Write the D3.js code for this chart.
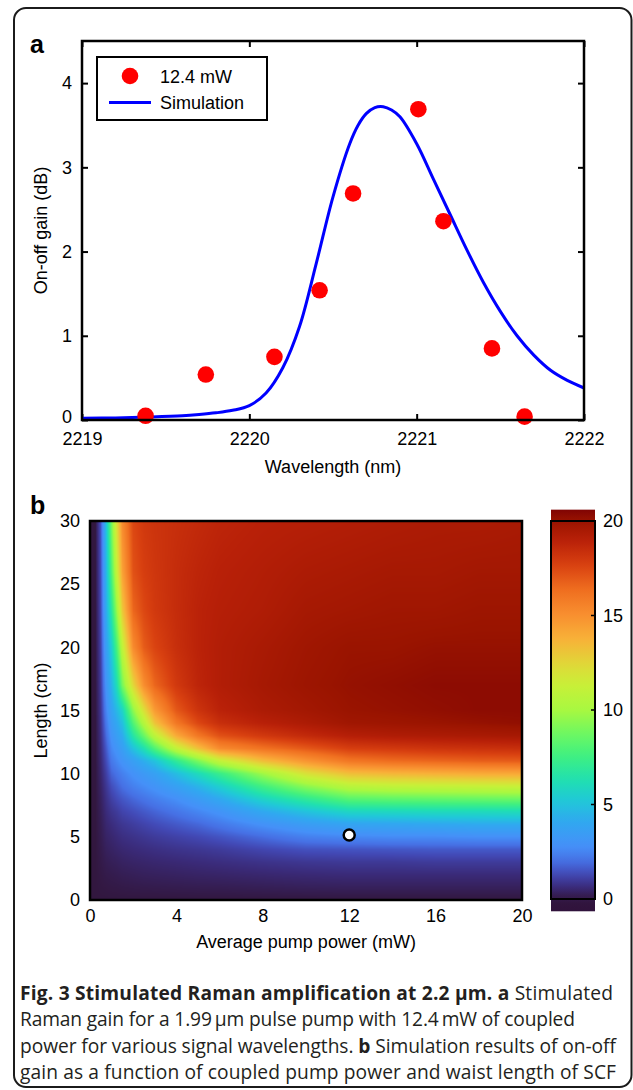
<!DOCTYPE html>
<html>
<head>
<meta charset="utf-8">
<script src="https://cdn.jsdelivr.net/npm/d3@7"></script>
<style>
  html, body { margin: 0; padding: 0; background: #fff; }
  svg { display: block; }
</style>
</head>
<body>
<svg id="fig" width="633" height="1090"></svg>
<script>
// ---------- Panel a: measured and simulated on-off gain ----------
const measWavelength = [2219.38, 2219.74, 2220.15, 2220.42, 2220.62, 2221.01, 2221.16, 2221.45, 2221.645];
const measGain       = [0.05,    0.54,    0.75,    1.54,    2.69,    3.69,    2.36,    0.85,    0.04];

const simWavelength = [2219.0, 2219.2, 2219.4, 2219.6, 2219.7, 2219.8, 2219.9, 2220.0, 2220.1, 2220.2,
                       2220.3, 2220.4, 2220.5, 2220.6, 2220.65, 2220.7, 2220.75, 2220.8, 2220.85, 2220.9,
                       2221.0, 2221.1, 2221.2, 2221.3, 2221.4, 2221.5, 2221.6, 2221.7, 2221.8, 2221.9, 2222.0];
const simGain       = [0.02, 0.025, 0.035, 0.05, 0.065, 0.085, 0.115, 0.17, 0.32, 0.62,
                       1.11, 1.86, 2.65, 3.28, 3.50, 3.64, 3.71, 3.72, 3.68, 3.60,
                       3.28, 2.86, 2.44, 2.02, 1.63, 1.29, 1.00, 0.77, 0.59, 0.47, 0.38];

const legendLabels = ["12.4 mW", "Simulation"];
const aXTicks = [2219, 2220, 2221, 2222];
const aYTicks = [0, 1, 2, 3, 4];

// ---------- Panel b: simulated gain map (dB) ----------
const pumpPower   = [0, 0.25, 0.5, 0.75, 1, 1.25, 1.5, 2, 2.5, 3, 4, 5, 6, 8, 10, 12, 14, 16, 18, 20];   // mW
const waistLength = [0, 1, 2, 3, 4, 5, 6, 7, 8, 9, 10, 11, 12, 13, 14, 15, 17, 20, 23, 26, 30];          // cm
// one row per waist length, one column per pump power
const gainGrid = [
  [0, 0, 0,    0,    0,    0,    0,    0,    0,    0,    0,    0,    0,    0,    0,    0,    0,    0,    0,    0   ],
  [0, 0, 0.03, 0.05, 0.07, 0.08, 0.1,  0.12, 0.14, 0.15, 0.17, 0.19, 0.2,  0.24, 0.28, 0.3,  0.3,  0.3,  0.3,  0.3 ],
  [0, 0, 0.06, 0.12, 0.15, 0.18, 0.22, 0.26, 0.3,  0.32, 0.36, 0.4,  0.43, 0.5,  0.56, 0.6,  0.6,  0.6,  0.6,  0.6 ],
  [0, 0, 0.1,  0.2,  0.26, 0.3,  0.36, 0.42, 0.46, 0.5,  0.56, 0.62, 0.68, 0.8,  0.9,  0.95, 0.95, 1.0,  1.0,  1.0 ],
  [0, 0, 0.14, 0.3,  0.38, 0.45, 0.52, 0.6,  0.66, 0.72, 0.82, 0.9,  1.0,  1.25, 1.45, 1.5,  1.55, 1.6,  1.6,  1.6 ],
  [0, 0, 0.18, 0.4,  0.5,  0.6,  0.7,  0.8,  0.9,  1.0,  1.15, 1.3,  1.5,  1.95, 2.4,  2.6,  2.7,  2.7,  2.8,  2.8 ],
  [0, 0, 0.22, 0.5,  0.65, 0.78, 0.9,  1.05, 1.2,  1.35, 1.6,  1.85, 2.2,  2.9,  3.5,  3.9,  4.0,  4.1,  4.2,  4.2 ],
  [0, 0, 0.27, 0.62, 0.85, 1.0,  1.2,  1.4,  1.6,  1.8,  2.15, 2.55, 3.0,  4.1,  5.0,  5.8,  5.9,  6.0,  6.0,  6.1 ],
  [0, 0, 0.33, 0.75, 1.1,  1.35, 1.55, 1.85, 2.1,  2.35, 2.8,  3.4,  4.1,  5.7,  7.0,  8.2,  8.4,  8.5,  8.6,  8.7 ],
  [0, 0, 0.4,  0.9,  1.4,  1.7,  2.0,  2.4,  2.7,  3.0,  3.7,  4.5,  5.5,  7.6,  9.4,  10.7, 11.0, 11.1, 11.2, 11.3],
  [0, 0, 0.48, 1.1,  1.8,  2.1,  2.4,  2.9,  3.3,  3.7,  4.8,  6.0,  7.3,  9.8,  12.0, 13.3, 13.6, 13.8, 14.0, 14.1],
  [0, 0, 0.56, 1.35, 2.2,  2.6,  3.0,  3.6,  4.3,  5.0,  7.0,  9.0,  11.0, 13.3, 14.8, 16.0, 16.4, 16.6, 16.8, 16.9],
  [0, 0, 0.64, 1.6,  2.6,  3.1,  3.6,  5.0,  6.3,  8.0,  11.0, 13.2, 15.2, 16.2, 17.0, 17.8, 18.0, 18.2, 18.3, 18.4],
  [0, 0, 0.72, 1.9,  3.0,  3.6,  4.2,  6.6,  8.6,  10.8, 14.0, 16.0, 17.2, 18.0, 18.6, 19.1, 19.3, 19.4, 19.5, 19.6],
  [0, 0, 0.8,  2.2,  3.4,  4.1,  4.9,  8.0,  10.5, 13.1, 16.0, 17.5, 18.4, 19.0, 19.4, 19.8, 19.9, 20.0, 20.1, 20.2],
  [0, 0, 0.88, 2.5,  3.8,  4.7,  5.7,  9.4,  12.1, 14.6, 17.0, 18.2, 18.9, 19.4, 19.7, 20.0, 20.1, 20.2, 20.3, 20.3],
  [0, 0, 1.0,  3.0,  4.5,  6.2,  8.9,  12.4, 15.1, 16.6, 18.0, 18.8, 19.2, 19.6, 19.9, 20.1, 20.2, 20.3, 20.3, 20.3],
  [0, 0, 1.15, 3.6,  5.4,  7.9,  10.9, 15.2, 16.9, 17.6, 18.4, 18.9, 19.2, 19.5, 19.8, 20.0, 20.0, 20.1, 20.1, 20.1],
  [0, 0, 1.3,  4.2,  6.8,  9.8,  13.0, 16.6, 17.5, 18.0, 18.5, 18.9, 19.1, 19.3, 19.6, 19.7, 19.8, 19.8, 19.9, 19.9],
  [0, 0, 1.4,  4.6,  8.0,  11.3, 14.3, 17.2, 17.8, 18.1, 18.5, 18.8, 19.0, 19.2, 19.4, 19.5, 19.6, 19.6, 19.7, 19.7],
  [0, 0, 1.5,  5.0,  9.0,  12.3, 15.2, 17.5, 18.0, 18.2, 18.4, 18.6, 18.8, 19.0, 19.1, 19.2, 19.3, 19.4, 19.4, 19.5]
];
const markerPoint = [12, 5.14];   // experimental operating point (mW, cm)
const bXTicks = [0, 4, 8, 12, 16, 20];
const bYTicks = [0, 5, 10, 15, 20, 25, 30];
const cbTicks = [0, 5, 10, 15, 20];

// colour map (gain in dB -> colour)
const cmapValues = [-0.65, 0, 0.6, 1.3, 2.0, 2.8, 4.1, 5.2, 6.3, 7.6, 8.8, 10, 11.3, 12.4, 13.8, 15, 16.3, 17.7, 19, 20, 20.6];
const cmapColors = ["#30123b", "#32173f", "#3a2a78", "#4248b4", "#4670e4", "#4590f8", "#30a8f0", "#20c8d8",
                    "#20e0b0", "#40f080", "#70f860", "#a8f840", "#c8f038", "#e0d838", "#f8b038", "#f89030",
                    "#f07020", "#d84010", "#b82008", "#9a1400", "#800404"];

// ---------- caption ----------
const captionLines = [
  [["Fig. 3 Stimulated Raman amplification at 2.2 µm. a", true], [" Stimulated", false]],
  [["Raman gain for a 1.99\u2009µm pulse pump with 12.4\u2009mW of coupled", false]],
  [["power for various signal wavelengths. ", false], ["b", true], [" Simulation results of on-off", false]],
  [["gain as a function of coupled pump power and waist length of SCF", false]]
];
const captionWidths = [593, 555, 596, 596];

// =====================================================================
const svg = d3.select("#fig");
const FONT = "'Liberation Sans', Arial, Helvetica, sans-serif";

// outer rounded frame
svg.append("rect")
  .attr("x", 14).attr("y", 8).attr("width", 617.5).attr("height", 1079)
  .attr("rx", 12).attr("fill", "none").attr("stroke", "#1b1b1b").attr("stroke-width", 2);

// panel letters
svg.append("text").attr("x", 30).attr("y", 53).text("a")
  .attr("font-family", FONT).attr("font-weight", "bold").attr("font-size", 25);
svg.append("text").attr("x", 30).attr("y", 514).text("b")
  .attr("font-family", FONT).attr("font-weight", "bold").attr("font-size", 25);

// ------------------------- Panel a ----------------------------------
const xA = d3.scaleLinear().domain([2219, 2222]).range([82, 584]);
const yA = d3.scaleLinear().domain([0, 4.5]).range([420, 41]);
const gA = svg.append("g");

function styleAxis(g) {
  g.select(".domain").remove();
  g.selectAll(".tick line").attr("stroke", "#000").attr("stroke-width", 2);
  g.selectAll(".tick text").attr("font-family", FONT).attr("font-size", 18).attr("fill", "#000");
}

gA.append("g").attr("transform", `translate(0,${yA(0)})`)
  .call(d3.axisBottom(xA).tickValues(aXTicks).tickFormat(d3.format("d")).tickSize(-6).tickPadding(12))
  .call(styleAxis);
gA.append("g").attr("transform", `translate(0,${yA(4.5)})`)
  .call(d3.axisTop(xA).tickValues(aXTicks).tickFormat("").tickSize(-6))
  .call(styleAxis);
const yAxisA = gA.append("g").attr("transform", `translate(${xA(2219)},0)`)
  .call(d3.axisLeft(yA).tickValues(aYTicks).tickFormat(d3.format("d")).tickSize(-6).tickPadding(10))
  .call(styleAxis);
// lift the zero label a little so it clears the wavelength labels
yAxisA.selectAll(".tick text").filter(d => d === 0).attr("dy", "0.12em");
gA.append("g").attr("transform", `translate(${xA(2222)},0)`)
  .call(d3.axisRight(yA).tickValues(aYTicks).tickFormat("").tickSize(-6))
  .call(styleAxis);

// simulation curve
const simPts = simWavelength.map((w, i) => [w, simGain[i]]);
gA.append("path")
  .datum(simPts)
  .attr("d", d3.line().x(d => xA(d[0])).y(d => yA(d[1])).curve(d3.curveCatmullRom.alpha(0.5)))
  .attr("fill", "none").attr("stroke", "#0000ff").attr("stroke-width", 3);

// measured points
gA.selectAll("circle.meas")
  .data(measWavelength.map((w, i) => [w, measGain[i]]))
  .join("circle").attr("class", "meas")
  .attr("cx", d => xA(d[0])).attr("cy", d => yA(d[1])).attr("r", 8.3)
  .attr("fill", "#ff0000");

// plot frame
gA.append("rect")
  .attr("x", xA(2219)).attr("y", yA(4.5))
  .attr("width", xA(2222) - xA(2219)).attr("height", yA(0) - yA(4.5))
  .attr("fill", "none").attr("stroke", "#000").attr("stroke-width", 2.5);

// legend
const lg = gA.append("g");
lg.append("rect").attr("x", 97).attr("y", 57).attr("width", 170).attr("height", 63)
  .attr("fill", "#fff").attr("stroke", "#000").attr("stroke-width", 2);
lg.append("circle").attr("cx", 130).attr("cy", 76).attr("r", 8.3).attr("fill", "#ff0000");
lg.append("line").attr("x1", 109).attr("x2", 151).attr("y1", 102.5).attr("y2", 102.5)
  .attr("stroke", "#0000ff").attr("stroke-width", 3);
lg.selectAll("text").data(legendLabels).join("text")
  .attr("x", 160).attr("y", (d, i) => 82.5 + i * 26)
  .attr("font-family", FONT).attr("font-size", 18).text(d => d);

// axis titles
gA.append("text").attr("x", (xA(2219) + xA(2222)) / 2).attr("y", 473)
  .attr("text-anchor", "middle").attr("font-family", FONT).attr("font-size", 18)
  .text("Wavelength (nm)");
gA.append("text").attr("transform", `translate(47,${(yA(0) + yA(4.5)) / 2}) rotate(-90)`)
  .attr("text-anchor", "middle").attr("font-family", FONT).attr("font-size", 18)
  .text("On-off gain (dB)");

// ------------------------- Panel b ----------------------------------
const xB = d3.scaleLinear().domain([0, 20]).range([90, 522]);
const yB = d3.scaleLinear().domain([0, 30]).range([900, 521]);
const colorScale = d3.scaleLinear().domain(cmapValues).range(cmapColors)
  .interpolate(d3.interpolateRgb).clamp(true);

// bilinear shading between grid nodes
function sampleGain(p, l) {
  const i = Math.max(0, Math.min(pumpPower.length - 2, d3.bisectRight(pumpPower, p) - 1));
  const j = Math.max(0, Math.min(waistLength.length - 2, d3.bisectRight(waistLength, l) - 1));
  const tx = Math.max(0, Math.min(1, (p - pumpPower[i]) / (pumpPower[i + 1] - pumpPower[i])));
  const ty = Math.max(0, Math.min(1, (l - waistLength[j]) / (waistLength[j + 1] - waistLength[j])));
  const a = gainGrid[j][i] * (1 - tx) + gainGrid[j][i + 1] * tx;
  const b = gainGrid[j + 1][i] * (1 - tx) + gainGrid[j + 1][i + 1] * tx;
  return a * (1 - ty) + b * ty;
}

const hx0 = xB(0), hx1 = xB(20), hy0 = yB(30), hy1 = yB(0);
const HW = Math.round(hx1 - hx0), HH = Math.round(hy1 - hy0);
const canvas = document.createElement("canvas");
canvas.width = HW; canvas.height = HH;
const ctx = canvas.getContext("2d");
const img = ctx.createImageData(HW, HH);
for (let py = 0; py < HH; py++) {
  const l = yB.invert(hy0 + (py + 0.5) * (hy1 - hy0) / HH);
  for (let px = 0; px < HW; px++) {
    const p = xB.invert(hx0 + (px + 0.5) * (hx1 - hx0) / HW);
    const c = d3.rgb(colorScale(sampleGain(p, l)));
    const k = (py * HW + px) * 4;
    img.data[k] = c.r; img.data[k + 1] = c.g; img.data[k + 2] = c.b; img.data[k + 3] = 255;
  }
}
ctx.putImageData(img, 0, 0);

const gB = svg.append("g");
gB.append("image")
  .attr("x", hx0).attr("y", hy0).attr("width", hx1 - hx0).attr("height", hy1 - hy0)
  .attr("preserveAspectRatio", "none")
  .attr("href", canvas.toDataURL());

gB.append("g").attr("transform", `translate(0,${hy1})`)
  .call(d3.axisBottom(xB).tickValues(bXTicks).tickFormat(d3.format("d")).tickSize(0).tickPadding(9))
  .call(styleAxis);
gB.append("g").attr("transform", `translate(${hx0},0)`)
  .call(d3.axisLeft(yB).tickValues(bYTicks).tickFormat(d3.format("d")).tickSize(0).tickPadding(10))
  .call(styleAxis);

gB.append("rect")
  .attr("x", hx0).attr("y", hy0).attr("width", hx1 - hx0).attr("height", hy1 - hy0)
  .attr("fill", "none").attr("stroke", "#000").attr("stroke-width", 2.5);

// operating point
gB.append("circle")
  .attr("cx", xB(markerPoint[0])).attr("cy", yB(markerPoint[1])).attr("r", 5.5)
  .attr("fill", "#fff").attr("stroke", "#000").attr("stroke-width", 2.5);

gB.append("text").attr("x", (hx0 + hx1) / 2).attr("y", 948)
  .attr("text-anchor", "middle").attr("font-family", FONT).attr("font-size", 18)
  .text("Average pump power (mW)");
gB.append("text").attr("transform", `translate(47,${(hy0 + hy1) / 2}) rotate(-90)`)
  .attr("text-anchor", "middle").attr("font-family", FONT).attr("font-size", 18)
  .text("Length (cm)");

// colour bar
const cbScale = d3.scaleLinear().domain([0, 20]).range([899, 521]);
const cbX0 = 551, cbX1 = 595;
const cbTop = cbScale(20.6), cbBot = cbScale(-0.65);
const defs = svg.append("defs");
const grad = defs.append("linearGradient").attr("id", "cbGrad")
  .attr("gradientUnits", "userSpaceOnUse")
  .attr("x1", 0).attr("x2", 0).attr("y1", cbBot).attr("y2", cbTop);
grad.selectAll("stop").data(d3.range(0, 1.0001, 0.02)).join("stop")
  .attr("offset", d => d)
  .attr("stop-color", d => colorScale(-0.65 + d * (20.6 + 0.65)));
gB.append("rect").attr("x", cbX0).attr("y", cbTop).attr("width", cbX1 - cbX0).attr("height", cbBot - cbTop)
  .attr("fill", "url(#cbGrad)");
gB.append("rect").attr("x", cbX0).attr("y", cbScale(20)).attr("width", cbX1 - cbX0)
  .attr("height", cbScale(0) - cbScale(20))
  .attr("fill", "none").attr("stroke", "#000").attr("stroke-width", 2);
gB.append("g").attr("transform", `translate(${cbX1},0)`)
  .call(d3.axisRight(cbScale).tickValues(cbTicks).tickFormat(d3.format("d")).tickSize(0).tickPadding(8))
  .call(styleAxis);
// inward tick marks on the colour bar
gB.selectAll("line.cbtick").data(cbTicks.filter(t => t > 0 && t < 20)).join("line")
  .attr("class", "cbtick")
  .attr("x1", cbX1 - 4).attr("x2", cbX1).attr("y1", d => cbScale(d)).attr("y2", d => cbScale(d))
  .attr("stroke", "#000").attr("stroke-width", 1.5);

// ------------------------- Caption ----------------------------------
const CAP_FONT = "'Open Sans', 'Noto Sans', sans-serif";
const cap = svg.append("g");
captionLines.forEach((line, i) => {
  const t = cap.append("text").attr("x", 20).attr("y", 1000 + i * 26.3)
    .attr("font-family", CAP_FONT).attr("font-size", 19.2).attr("fill", "#231f20")
    .attr("textLength", captionWidths[i]).attr("lengthAdjust", "spacing");
  line.forEach(([txt, bold]) => {
    t.append("tspan").attr("font-weight", bold ? "bold" : "normal").text(txt);
  });
});
</script>
</body>
</html>
